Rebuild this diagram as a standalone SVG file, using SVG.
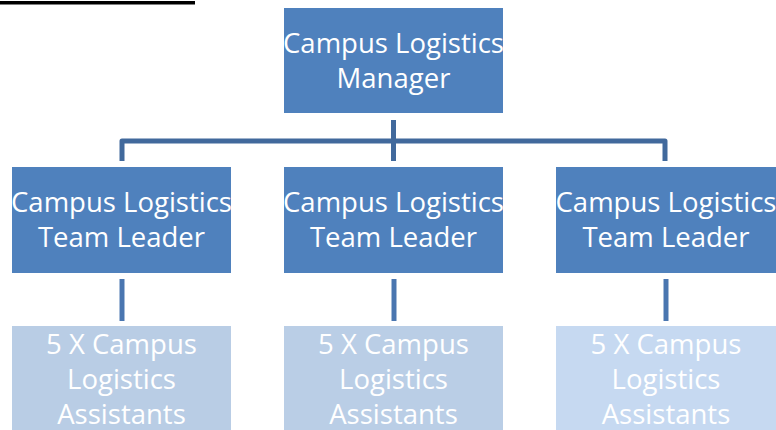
<svg xmlns="http://www.w3.org/2000/svg" width="776" height="430" viewBox="0 0 776 430">
  <style>
    .mgr { fill: #4F81BD; }
    .lead { fill: #4F81BD; }
    .asst1 { fill: #B9CDE5; }
    .asst2 { fill: #BACEE6; }
    .asst3 { fill: #C6D9F1; }
    .lbl { font-family: "Open Sans", "Liberation Sans", sans-serif; font-size: 27.5px; fill: #FFFFFF; text-anchor: middle; }
    .trunk { fill: none; stroke: #41699C; stroke-width: 5; stroke-linejoin: round; }
    .drop { fill: none; stroke: #4A76B0; stroke-width: 5; }
  </style>
  <rect x="0" y="0" width="776" height="430" fill="#FFFFFF"/>
  <!-- header rule -->
  <rect x="0" y="1" width="195" height="3.5" fill="#000000"/>

  <g id="connectors">
    <path class="trunk" d="M122,161 V141 H665 V161"/>
    <path class="trunk" d="M393.5,120 V161"/>
    <path class="drop" d="M122,279 V321"/>
    <path class="drop" d="M394,279 V321"/>
    <path class="drop" d="M666,279 V321"/>
  </g>

  <g id="manager">
    <rect class="mgr" x="284" y="8" width="219" height="105"/>
    <text class="lbl" x="393.5" y="53">Campus Logistics</text>
    <text class="lbl" x="393.5" y="88">Manager</text>
  </g>

  <g id="leader-1">
    <rect class="lead" x="12" y="167" width="219" height="106"/>
    <text class="lbl" x="121.5" y="212">Campus Logistics</text>
    <text class="lbl" x="121.5" y="247">Team Leader</text>
  </g>
  <g id="leader-2">
    <rect class="lead" x="284" y="167" width="219" height="106"/>
    <text class="lbl" x="393.5" y="212">Campus Logistics</text>
    <text class="lbl" x="393.5" y="247">Team Leader</text>
  </g>
  <g id="leader-3">
    <rect class="lead" x="556" y="167" width="220" height="106"/>
    <text class="lbl" x="666" y="212">Campus Logistics</text>
    <text class="lbl" x="666" y="247">Team Leader</text>
  </g>

  <g id="assistants-1">
    <rect class="asst1" x="12" y="326" width="219" height="104"/>
    <text class="lbl" x="121.5" y="354">5 X Campus</text>
    <text class="lbl" x="121.5" y="389">Logistics</text>
    <text class="lbl" x="121.5" y="424">Assistants</text>
  </g>
  <g id="assistants-2">
    <rect class="asst2" x="284" y="326" width="219" height="104"/>
    <text class="lbl" x="393.5" y="354">5 X Campus</text>
    <text class="lbl" x="393.5" y="389">Logistics</text>
    <text class="lbl" x="393.5" y="424">Assistants</text>
  </g>
  <g id="assistants-3">
    <rect class="asst3" x="556" y="326" width="220" height="104"/>
    <text class="lbl" x="666" y="354">5 X Campus</text>
    <text class="lbl" x="666" y="389">Logistics</text>
    <text class="lbl" x="666" y="424">Assistants</text>
  </g>
</svg>
